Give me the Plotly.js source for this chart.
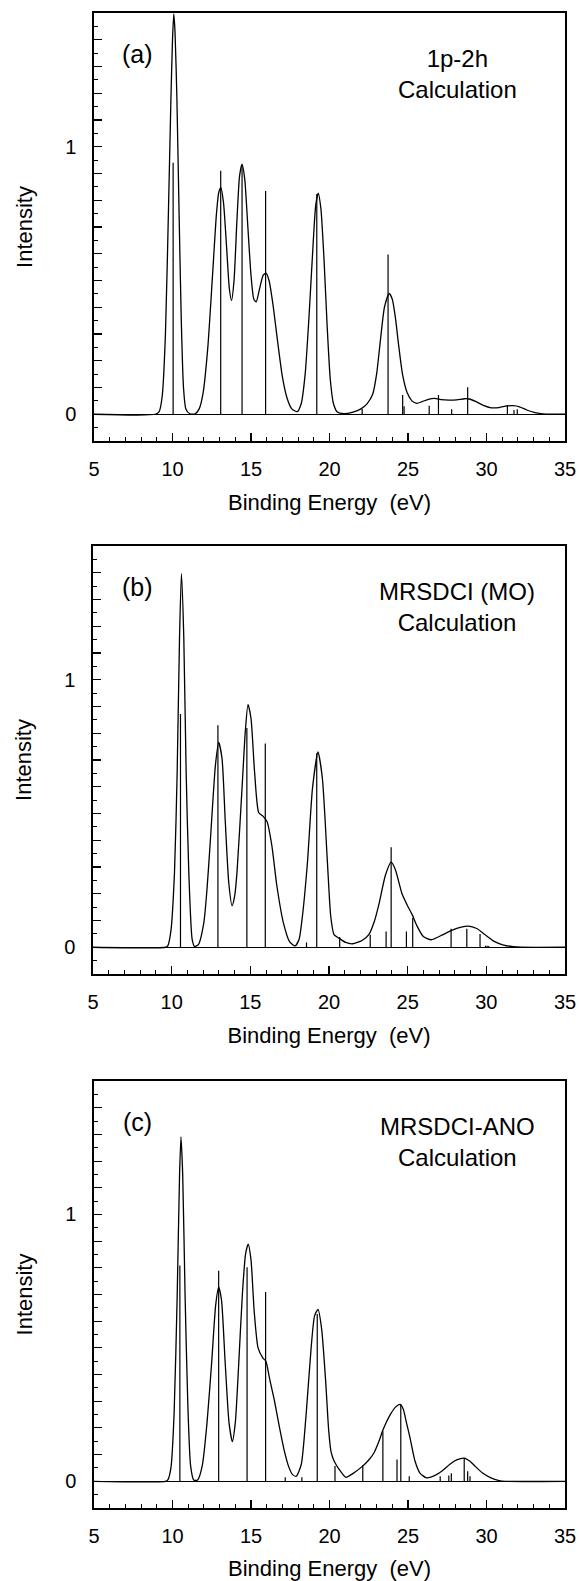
<!DOCTYPE html>
<html>
<head>
<meta charset="utf-8">
<script src="https://cdn.plot.ly/plotly-3.0.1.min.js"></script>
<style>
  html, body { margin: 0; padding: 0; background: #ffffff; }
  #chart { width: 579px; height: 1581px; }
</style>
</head>
<body>
<div id="chart"></div>
<script>
// ---------------- DATA ----------------
// Panel (a): 1p-2h calculation - convoluted spectrum
const energyA = [5, 8.9, 9.15, 9.35, 9.55, 9.75, 9.9, 10.0, 10.08, 10.16, 10.28, 10.42, 10.56, 10.7, 10.85, 11.1, 11.45, 11.7, 11.95, 12.25, 12.55, 12.8, 12.95, 13.08, 13.25, 13.45, 13.62, 13.76, 13.92, 14.1, 14.27, 14.43, 14.6, 14.8, 15.0, 15.18, 15.33, 15.55, 15.78, 15.97, 16.15, 16.4, 16.7, 17.0, 17.3, 17.6, 17.95, 18.2, 18.45, 18.7, 18.95, 19.12, 19.28, 19.45, 19.65, 19.85, 20.05, 20.25, 20.5, 20.9, 21.5, 22.0, 22.4, 22.75, 23.0, 23.25, 23.5, 23.8, 24.0, 24.2, 24.4, 24.65, 24.95, 25.25, 25.55, 25.9, 26.3, 26.7, 27.1, 27.6, 28.1, 28.6, 28.9, 29.3, 29.8, 30.3, 30.8, 31.3, 31.7, 32.1, 32.6, 33.1, 33.6, 34.2, 35];
const intensityA = [0, 0, 0.01, 0.07, 0.3, 0.78, 1.18, 1.4, 1.497, 1.43, 1.18, 0.75, 0.35, 0.1, 0.02, 0.002, 0.002, 0.02, 0.08, 0.25, 0.52, 0.75, 0.83, 0.847, 0.79, 0.62, 0.47, 0.425, 0.5, 0.72, 0.89, 0.935, 0.88, 0.7, 0.52, 0.43, 0.42, 0.47, 0.52, 0.527, 0.5, 0.41, 0.27, 0.14, 0.06, 0.02, 0.01, 0.04, 0.15, 0.37, 0.63, 0.78, 0.827, 0.77, 0.58, 0.33, 0.13, 0.04, 0.008, 0.002, 0.008, 0.02, 0.04, 0.075, 0.15, 0.28, 0.4, 0.452, 0.43, 0.36, 0.26, 0.15, 0.08, 0.05, 0.041, 0.047, 0.056, 0.059, 0.055, 0.053, 0.054, 0.058, 0.057, 0.048, 0.033, 0.024, 0.025, 0.031, 0.032, 0.028, 0.015, 0.006, 0.001, 0, 0];
// Panel (a): line spectrum (pole strengths)
const stickEnergyA = [10.04, 13.07, 14.43, 15.93, 19.19, 22.08, 23.73, 24.66, 24.75, 26.35, 26.94, 27.78, 28.80, 31.33, 31.75, 31.96];
const stickHeightA = [0.94, 0.91, 0.93, 0.835, 0.823, 0.02, 0.597, 0.072, 0.03, 0.032, 0.072, 0.019, 0.101, 0.034, 0.016, 0.019];

// Panel (b): MRSDCI (MO) calculation
const energyB = [5, 9.6, 9.75, 9.95, 10.18, 10.35, 10.5, 10.62, 10.77, 10.92, 11.09, 11.3, 11.45, 11.7, 12.04, 12.25, 12.46, 12.78, 12.99, 13.2, 13.41, 13.63, 13.84, 14.0, 14.15, 14.47, 14.68, 14.85, 15.04, 15.27, 15.53, 15.8, 16.06, 16.37, 16.69, 17.11, 17.5, 17.85, 18.1, 18.31, 18.63, 18.95, 19.3, 19.58, 19.9, 20.11, 20.32, 20.63, 21.06, 21.5, 22.1, 22.53, 22.9, 23.17, 23.59, 23.95, 24.22, 24.64, 24.95, 25.3, 25.59, 26.0, 26.5, 27.17, 27.8, 28.4, 28.85, 29.39, 29.9, 30.5, 31.1, 31.7, 32.2, 35];
const intensityB = [0, 0, 0.005, 0.06, 0.28, 0.655, 1.16, 1.397, 1.16, 0.655, 0.278, 0.03, 0.003, 0.01, 0.09, 0.22, 0.4, 0.68, 0.766, 0.706, 0.467, 0.24, 0.155, 0.19, 0.278, 0.592, 0.806, 0.907, 0.857, 0.655, 0.504, 0.49, 0.47, 0.379, 0.228, 0.089, 0.02, 0.005, 0.03, 0.116, 0.317, 0.594, 0.73, 0.631, 0.317, 0.116, 0.047, 0.034, 0.018, 0.013, 0.025, 0.047, 0.1, 0.16, 0.27, 0.318, 0.29, 0.2, 0.16, 0.12, 0.08, 0.04, 0.028, 0.045, 0.063, 0.075, 0.079, 0.07, 0.048, 0.022, 0.008, 0.002, 0, 0];
const stickEnergyB = [10.56, 12.94, 14.78, 15.95, 18.57, 19.22, 20.68, 22.62, 23.63, 23.95, 24.92, 25.32, 27.76, 28.76, 29.6, 29.95, 30.05, 30.15];
const stickHeightB = [0.872, 0.83, 0.82, 0.762, 0.018, 0.725, 0.038, 0.047, 0.059, 0.374, 0.059, 0.109, 0.069, 0.069, 0.05, 0.006, 0.006, 0.005];

// Panel (c): MRSDCI-ANO calculation
const energyC = [5, 9.55, 9.7, 9.9, 10.1, 10.3, 10.45, 10.54, 10.65, 10.8, 10.98, 11.15, 11.35, 11.6, 11.9, 12.2, 12.5, 12.75, 12.94, 13.12, 13.35, 13.6, 13.81, 14.0, 14.2, 14.45, 14.65, 14.82, 15.0, 15.2, 15.45, 15.76, 15.95, 16.2, 16.5, 16.82, 17.1, 17.4, 17.65, 17.88, 18.2, 18.51, 18.83, 19.05, 19.27, 19.5, 19.75, 19.95, 20.1, 20.3, 20.6, 21.04, 21.46, 22.09, 22.5, 22.82, 23.15, 23.39, 23.65, 23.87, 24.2, 24.5, 24.7, 24.9, 25.13, 25.45, 25.76, 26.18, 26.81, 27.3, 27.65, 28.1, 28.58, 28.95, 29.3, 29.75, 30.28, 30.8, 31.2, 35];
const intensityC = [0, 0, 0.005, 0.05, 0.25, 0.7, 1.15, 1.291, 1.15, 0.7, 0.28, 0.06, 0.005, 0.005, 0.06, 0.22, 0.45, 0.66, 0.728, 0.68, 0.45, 0.22, 0.149, 0.22, 0.42, 0.7, 0.85, 0.889, 0.83, 0.64, 0.5, 0.462, 0.45, 0.38, 0.3, 0.2, 0.12, 0.055, 0.025, 0.019, 0.063, 0.25, 0.5, 0.62, 0.644, 0.57, 0.38, 0.19, 0.11, 0.075, 0.046, 0.015, 0.028, 0.056, 0.08, 0.105, 0.15, 0.19, 0.225, 0.25, 0.278, 0.288, 0.27, 0.22, 0.163, 0.075, 0.031, 0.013, 0.025, 0.045, 0.063, 0.08, 0.087, 0.075, 0.055, 0.031, 0.013, 0.003, 0, 0];
const stickEnergyC = [10.47, 12.94, 14.75, 15.93, 17.18, 18.24, 19.22, 20.35, 22.12, 23.4, 24.3, 24.54, 25.08, 27.05, 27.6, 27.76, 28.58, 28.8, 28.95];
const stickHeightC = [0.809, 0.789, 0.802, 0.709, 0.015, 0.015, 0.627, 0.057, 0.06, 0.188, 0.082, 0.288, 0.019, 0.019, 0.022, 0.03, 0.087, 0.038, 0.019];

// Tick labels / texts
const xTickValues = [5, 10, 15, 20, 25, 30, 35];
const xTickLabels = ['5', '10', '15', '20', '25', '30', '35'];
const yTickLabelled = {0: '0', 1: '1'};
const panelLetters = ['(a)', '(b)', '(c)'];
const panelTitles = [['1p-2h', 'Calculation'], ['MRSDCI (MO)', 'Calculation'], ['MRSDCI-ANO', 'Calculation']];
const xTitle = 'Binding Energy\u00a0\u00a0(eV)';
const yTitle = 'Intensity';

// ---------------- BUILD ----------------
const W = 579, H = 1581;
const FONT = 'Liberation Sans, Arial, Helvetica, sans-serif';
// panel frames in pixels: [left, right, top, bottom]
const frames = [[94, 565, 13, 441], [93, 565, 546, 974], [94, 565, 1081, 1508]];

function sticks(es, hs) {
  const x = [], y = [];
  es.forEach((e, i) => { x.push(e, e, null); y.push(0, hs[i], null); });
  return {x, y};
}

const series = [
  [energyA, intensityA, stickEnergyA, stickHeightA],
  [energyB, intensityB, stickEnergyB, stickHeightB],
  [energyC, intensityC, stickEnergyC, stickHeightC]
];

const yTickVals = [], yTickText = [];
for (let k = -1; k <= 15; k++) { const v = +(k / 10).toFixed(1); yTickVals.push(v); yTickText.push(yTickLabelled[v] || ''); }

const traces = [];
const layout = {
  width: W, height: H,
  margin: {l: 0, r: 0, t: 0, b: 0},
  paper_bgcolor: '#ffffff', plot_bgcolor: '#ffffff',
  showlegend: false,
  annotations: []
};

series.forEach((s, i) => {
  const n = i === 0 ? '' : String(i + 1);
  const xa = 'x' + n, ya = 'y' + n;
  traces.push({
    type: 'scatter', mode: 'lines', x: s[0], y: s[1], xaxis: xa, yaxis: ya,
    line: {color: '#000', width: 1.3, shape: 'spline', smoothing: 0.6}, hoverinfo: 'skip'
  });
  const st = sticks(s[2], s[3]);
  traces.push({
    type: 'scatter', mode: 'lines', x: st.x, y: st.y, xaxis: xa, yaxis: ya,
    connectgaps: false, line: {color: '#000', width: 1.2}, hoverinfo: 'skip'
  });
  const f = frames[i];
  layout['xaxis' + n] = {
    domain: [f[0] / W, f[1] / W], anchor: ya, range: [5, 35],
    showline: true, linecolor: '#000', linewidth: 1.6, mirror: true,
    showgrid: false, zeroline: false,
    tickmode: 'array', tickvals: xTickValues, ticktext: xTickLabels,
    ticks: 'inside', ticklen: 8, tickwidth: 1.2, tickcolor: '#000',
    minor: {dtick: 1, tick0: 5, ticks: 'inside', ticklen: 4, tickwidth: 1, tickcolor: '#000', showgrid: false},
    ticklabelstandoff: 9,
    tickfont: {family: FONT, size: 20, color: '#000'},
    title: {text: xTitle, font: {family: FONT, size: 22, color: '#000'}, standoff: 16}
  };
  layout['yaxis' + n] = {
    domain: [1 - f[3] / H, 1 - f[2] / H], anchor: xa, range: [-0.1, 1.5],
    showline: true, linecolor: '#000', linewidth: 1.6, mirror: true,
    showgrid: false, zeroline: true, zerolinecolor: '#000', zerolinewidth: 1.3,
    tickmode: 'array', tickvals: yTickVals, ticktext: yTickText,
    ticks: 'inside', ticklen: 8, tickwidth: 1.1, tickcolor: '#000',
    minor: {dtick: 0.05, tick0: 0, ticks: 'inside', ticklen: 4, tickwidth: 1, tickcolor: '#000', showgrid: false},
    ticklabelstandoff: 12,
    tickfont: {family: FONT, size: 20, color: '#000'},
    title: {text: yTitle, font: {family: FONT, size: 22, color: '#000'}, standoff: 26}
  };
  layout.annotations.push({
    xref: xa, yref: ya, x: 7.8, y: 1.345, text: panelLetters[i], showarrow: false,
    xanchor: 'center', yanchor: 'middle', font: {family: FONT, size: 25, color: '#000'}
  });
  layout.annotations.push({
    xref: xa, yref: ya, x: 28.15, y: 1.272, text: panelTitles[i].join('<br>'), showarrow: false,
    xanchor: 'center', yanchor: 'middle', align: 'center',
    font: {family: FONT, size: 24, color: '#000'}
  });
});

Plotly.newPlot('chart', traces, layout, {staticPlot: true, displayModeBar: false});
</script>
</body>
</html>
